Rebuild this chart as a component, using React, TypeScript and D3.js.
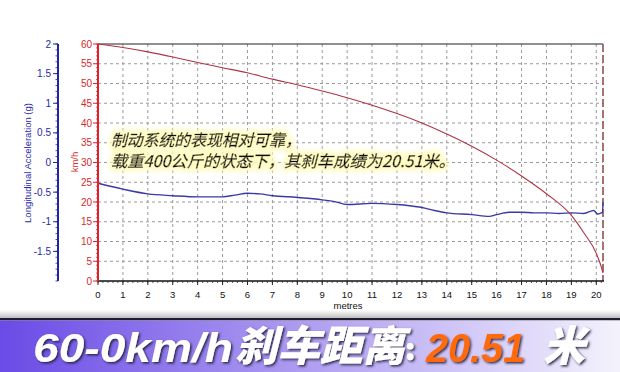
import React from "react";
import * as d3 from "d3";

// ---- data ----
const distance: number[] = [0, 1, 2, 3, 4, 5, 6, 7, 8, 9, 10, 11, 12, 13, 14, 15, 16, 17, 18, 19, 19.5, 20, 20.2, 20.27];
const speedKmh: number[] = [60, 59.1, 58.0, 56.7, 55.3, 54.0, 52.7, 51.1, 49.7, 48.1, 46.4, 44.5, 42.4, 40.0, 37.2, 34.1, 30.6, 26.6, 22.1, 16.6, 12.2, 7.0, 3.6, 2.0];

const accDistance: number[] = [0, 1, 2, 3, 4, 5, 5.5, 6, 6.5, 7, 8, 9, 9.5, 10, 11, 12, 12.5, 13, 13.5, 14, 15, 15.7, 16, 16.5, 17, 17.5, 18, 18.5, 19, 19.5, 19.9, 20.05, 20.2, 20.25, 20.27];
const accelG: number[] = [-0.35, -0.45, -0.53, -0.56, -0.58, -0.58, -0.55, -0.52, -0.53, -0.56, -0.59, -0.63, -0.66, -0.71, -0.69, -0.71, -0.73, -0.76, -0.81, -0.85, -0.88, -0.91, -0.88, -0.84, -0.84, -0.85, -0.85, -0.86, -0.85, -0.86, -0.81, -0.87, -0.85, -0.84, -0.67];

const xTicks: number[] = d3.range(0, 21, 1);
const speedTicks: number[] = [0, 5, 10, 15, 20, 25, 30, 35, 40, 45, 50, 55, 60];
const accTicks: number[] = [-1.5, -1, -0.5, 0, 0.5, 1, 1.5, 2];

const annotationLines: string[] = ["制动系统的表现相对可靠，", "载重400公斤的状态下，其刹车成绩为20.51米。"];
const bannerPrefix = "60-0km/h";
const bannerMid = "刹车距离";
const bannerColon = "：";
const bannerValue = "20.51";
const bannerUnit = "米";

const W = 620;
const H = 372;
const plot = { left: 98, right: 603, top: 44, bottom: 281 };

export default function App() {
  const x = d3.scaleLinear().domain([0, 20.27]).range([plot.left, plot.right]);
  const ySpeed = d3.scaleLinear().domain([0, 60]).range([plot.bottom, plot.top]);
  const yAcc = d3.scaleLinear().domain([-2, 2]).range([plot.bottom, plot.top]);

  const speedLine = d3
    .line<number>()
    .x((_, i) => x(distance[i]))
    .y((d) => ySpeed(d))
    .curve(d3.curveMonotoneX)(speedKmh) as string;

  const accLine = d3
    .line<number>()
    .x((_, i) => x(accDistance[i]))
    .y((d) => yAcc(d))
    .curve(d3.curveMonotoneX)(accelG) as string;

  const xMinor = d3.range(0, 20.27, 0.2);
  const speedMinor = d3.range(0, 61, 1);
  const accMinor = d3.range(-2, 2.001, 0.1);

  const font = "'Liberation Sans', Arial, sans-serif";
  const cjk = "'Noto Sans CJK SC', 'Liberation Sans', sans-serif";

  return (
    <svg
      width={W}
      height={H}
      viewBox={`0 0 ${W} ${H}`}
      style={{ position: "absolute", left: 0, top: 0, background: "#fff" }}
    >
      <defs>
        <linearGradient id="banner" x1="0" x2="1" y1="0" y2="0">
          <stop offset="0" stopColor="#6a4be6" />
          <stop offset="0.45" stopColor="#a996f0" />
          <stop offset="1" stopColor="#f4f2fd" />
        </linearGradient>
        <linearGradient id="shade" x1="0" x2="0" y1="0" y2="1">
          <stop offset="0" stopColor="#ffffff" />
          <stop offset="1" stopColor="#b8b8b8" />
        </linearGradient>
        <filter id="shadow" x="-10%" y="-20%" width="130%" height="150%">
          <feDropShadow dx="1.5" dy="1.5" stdDeviation="1" floodColor="#1a1a3a" floodOpacity="0.9" />
        </filter>
        <filter id="glow" x="-5%" y="-30%" width="110%" height="160%">
          <feMorphology in="SourceAlpha" operator="dilate" radius="2.5" result="d" />
          <feGaussianBlur in="d" stdDeviation="2" result="b" />
          <feFlood floodColor="#fffbc0" result="c" />
          <feComposite in="c" in2="b" operator="in" result="g" />
          <feMerge>
            <feMergeNode in="g" />
            <feMergeNode in="SourceGraphic" />
          </feMerge>
        </filter>
      </defs>

      <rect x={0} y={0} width={W} height={H} fill="#fff" />

      {/* grid */}
      {xTicks.filter((t) => t > 0).map((t) => (
        <line key={"gx" + t} x1={x(t)} x2={x(t)} y1={plot.top} y2={plot.bottom} stroke="#9a9a9a" strokeWidth={1} strokeDasharray="3,3" />
      ))}
      {speedTicks.filter((t) => t > 0 && t < 60).map((t) => (
        <line key={"gy" + t} x1={plot.left} x2={plot.right} y1={ySpeed(t)} y2={ySpeed(t)} stroke="#9a9a9a" strokeWidth={1} strokeDasharray="3,3" />
      ))}

      {/* frame */}
      <line x1={plot.left} x2={plot.right} y1={plot.top} y2={plot.top} stroke="#222" strokeWidth={1} />
      <line x1={plot.right} x2={plot.right} y1={plot.top} y2={plot.bottom} stroke="#8a4444" strokeWidth={1.5} strokeDasharray="8,3" />

      {/* data lines */}
      <path d={accLine} fill="none" stroke="#3a3aa6" strokeWidth={1.4} />
      <path d={speedLine} fill="none" stroke="#ad3545" strokeWidth={1.1} />

      {/* x axis */}
      <line x1={plot.left} x2={plot.right + 1} y1={plot.bottom} y2={plot.bottom} stroke="#111" strokeWidth={1.5} />
      {xMinor.map((t, i) => (
        <line key={"xm" + i} x1={x(t)} x2={x(t)} y1={plot.bottom} y2={plot.bottom + 2} stroke="#333" strokeWidth={0.8} />
      ))}
      {xTicks.map((t) => (
        <g key={"xt" + t}>
          <line x1={x(t)} x2={x(t)} y1={plot.bottom} y2={plot.bottom + 4} stroke="#222" strokeWidth={1} />
          <text x={x(t)} y={298} fontSize={9.5} fontFamily={font} textAnchor="middle" fill="#111">
            {t}
          </text>
        </g>
      ))}
      <text x={348} y={309} fontSize={9.5} fontFamily={font} textAnchor="middle" fill="#111">
        metres
      </text>

      {/* speed axis */}
      <line x1={plot.left} x2={plot.left} y1={plot.top} y2={plot.bottom} stroke="#e3202a" strokeWidth={2} />
      {speedMinor.map((t) => (
        <line key={"sm" + t} x1={plot.left - 2} x2={plot.left} y1={ySpeed(t)} y2={ySpeed(t)} stroke="#e3202a" strokeWidth={0.8} />
      ))}
      {speedTicks.map((t) => (
        <g key={"st" + t}>
          <line x1={plot.left - 5} x2={plot.left} y1={ySpeed(t)} y2={ySpeed(t)} stroke="#e3202a" strokeWidth={1} />
          <text x={plot.left - 6} y={ySpeed(t) + 3.5} fontSize={10} fontFamily={font} textAnchor="end" fill="#d42a2a">
            {t}
          </text>
        </g>
      ))}
      <text
        transform={`translate(78,162) rotate(-90)`}
        fontSize={9.5}
        fontFamily={font}
        textAnchor="middle"
        fill="#d42a2a"
      >
        km/h
      </text>

      {/* acceleration axis */}
      <line x1={58} x2={58} y1={plot.top} y2={plot.bottom} stroke="#2424a6" strokeWidth={2} />
      {accMinor.map((t, i) => (
        <line key={"am" + i} x1={55.5} x2={58} y1={yAcc(t)} y2={yAcc(t)} stroke="#2424a6" strokeWidth={0.8} />
      ))}
      {accTicks.map((t) => (
        <g key={"at" + t}>
          <line x1={53} x2={58} y1={yAcc(t)} y2={yAcc(t)} stroke="#2424a6" strokeWidth={1} />
          <text x={51} y={yAcc(t) + 3.5} fontSize={10} fontFamily={font} textAnchor="end" fill="#2a2aa8">
            {t}
          </text>
        </g>
      ))}
      <text
        transform={`translate(31,163) rotate(-90)`}
        fontSize={9.5}
        fontFamily={font}
        textAnchor="middle"
        fill="#2a2aa8"
      >
        Longitudinal Acceleration (g)
      </text>

      {/* annotation */}
      <g filter="url(#glow)">
        <text fontSize={16} fontFamily={cjk} fontStyle="italic" fill="#111" stroke="#111" strokeWidth={0.45}>
          <tspan x={111} y={145.5} textLength={190} lengthAdjust="spacingAndGlyphs">{annotationLines[0]}</tspan>
          <tspan x={111} y={167} textLength={344} lengthAdjust="spacingAndGlyphs">
            {annotationLines[1]}
          </tspan>
        </text>
      </g>

      {/* banner */}
      <rect x={0} y={310} width={W} height={9} fill="url(#shade)" />
      <rect x={0} y={318} width={W} height={2.5} fill="#1e1e2e" />
      <rect x={0} y={320.5} width={W} height={H - 320.5} fill="url(#banner)" />
      <g filter="url(#shadow)">
        <text fontStyle="italic" fill="#fff">
          <tspan
            x={33}
            y={362}
            fontSize={41}
            fontWeight={900}
            fontFamily={font}
            textLength={200}
            lengthAdjust="spacingAndGlyphs"
          >
            {bannerPrefix}
          </tspan>
          <tspan
            x={235}
            y={361}
            fontSize={42}
            fontWeight={900}
            fontFamily={cjk}
            textLength={170}
            lengthAdjust="spacingAndGlyphs"
          >
            {bannerMid}
          </tspan>
          <tspan
            x={405}
            y={358}
            fontSize={21}
            fontWeight={900}
            fontStyle="normal"
            fontFamily={cjk}
            stroke="#fff"
            strokeWidth={2.2}
          >
            {bannerColon}
          </tspan>
          <tspan
            x={426}
            y={362}
            fontSize={41}
            fontWeight={700}
            fontFamily={font}
            fill="#ff6a0a"
            textLength={99}
            lengthAdjust="spacingAndGlyphs"
          >
            {bannerValue}
          </tspan>
          <tspan x={543} y={361} fontSize={42} fontWeight={900} fontFamily={cjk}>
            {bannerUnit}
          </tspan>
        </text>
      </g>
    </svg>
  );
}
